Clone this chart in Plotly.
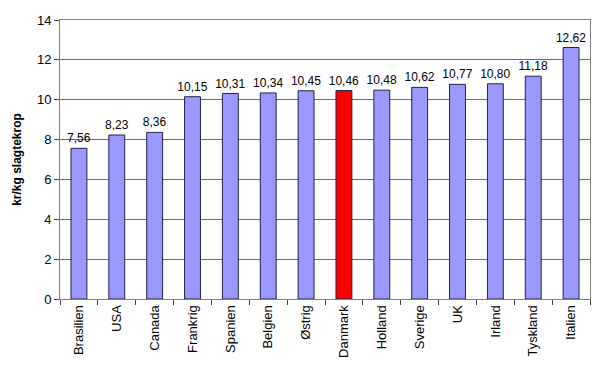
import plotly.graph_objects as go

countries = ["Brasilien", "USA", "Canada", "Frankrig", "Spanien", "Belgien", "Østrig",
             "Danmark", "Holland", "Sverige", "UK", "Irland", "Tyskland", "Italien"]
values = [7.56, 8.23, 8.36, 10.15, 10.31, 10.34, 10.45, 10.46, 10.48, 10.62, 10.77, 10.80, 11.18, 12.62]
highlight = "Danmark"

colors = ["#FF0000" if c == highlight else "#9999FF" for c in countries]

fig = go.Figure(go.Bar(
    x=countries, y=values,
    marker=dict(color=colors, line=dict(color="#222244", width=1)),
    width=0.42,
    text=[f"{v:.2f}".replace(".", ",") for v in values],
    textposition="outside",
    constraintext="none",
    textfont=dict(family="Liberation Sans, Arial", size=12, color="black"),
    cliponaxis=False,
))

fig.update_layout(
    width=592, height=366,
    margin=dict(l=52, r=10, t=12, b=75),
    paper_bgcolor="white", plot_bgcolor="white",
    font=dict(family="Liberation Sans, Arial", size=12, color="black"),
    showlegend=False,
    bargap=0.58,
)
fig.update_xaxes(
    tickangle=-90, ticks="outside", tickson="boundaries", ticklen=5,
    tickcolor="#404040", showline=True, linecolor="#808080", mirror=True,
    tickfont=dict(size=13), automargin=False,
)
fig.update_yaxes(
    range=[0, 14], dtick=2, ticks="outside", ticklen=5, tickcolor="#404040",
    showgrid=True, gridcolor="#6a6a6a", gridwidth=1,
    showline=True, linecolor="#808080", mirror=True, zeroline=False,
    title=dict(text="<b>kr/kg slagtekrop</b>", font=dict(size=12), standoff=12),
    tickfont=dict(size=13), automargin=False,
)

fig.write_html("out.html")
